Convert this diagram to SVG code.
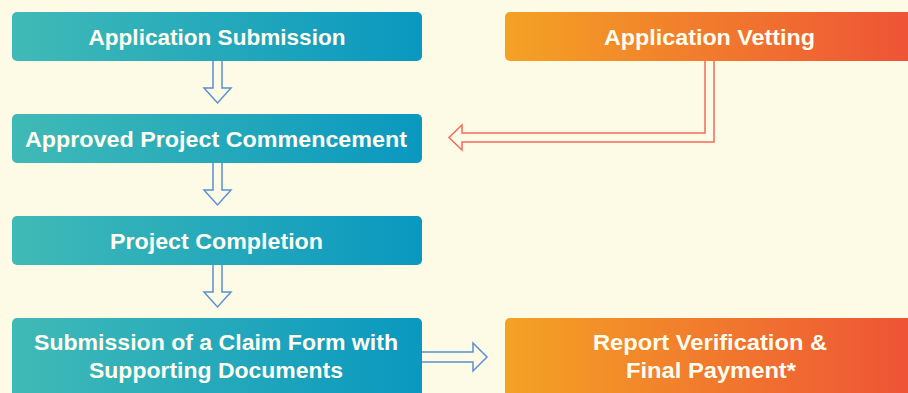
<svg xmlns="http://www.w3.org/2000/svg" width="908" height="393" viewBox="0 0 908 393">
<defs>
<linearGradient id="teal" x1="0" y1="0" x2="1" y2="0"><stop offset="0" stop-color="#40bab6"/><stop offset="1" stop-color="#0a98c0"/></linearGradient>
<linearGradient id="orange" x1="0" y1="0" x2="1" y2="0"><stop offset="0" stop-color="#f4a224"/><stop offset="1" stop-color="#ee5236"/></linearGradient>
<style>
.t{font-family:"Liberation Sans",Arial,sans-serif;font-weight:bold;font-size:22px;fill:#fffdf0;text-anchor:middle}
.b{fill:url(#teal)}
.o{fill:url(#orange)}
.ba{fill:#fdfbe6;stroke:#5a90d4;stroke-width:1.5;stroke-linejoin:miter}
.ra{fill:none;stroke:#f26b5e;stroke-width:1.5}
</style>
</defs>
<rect width="908" height="393" fill="#fdfbe6"/>
<g id="connectors">
<path class="ba" d="M213,61 V88 H204 L217.5,103 L231,88 H222 V61"/>
<path class="ba" d="M213,163 V190 H204 L217.5,205 L231,190 H222 V163"/>
<path class="ba" d="M213,265 V292 H204 L217.5,307 L231,292 H222 V265"/>
<path class="ba" d="M422,352 H473 V343 L487,357 L473,371 V362 H422"/>
<path class="ra" d="M705,61 V133 H462 V125 L449,137.5 L462,150 V142 H714 V61"/>
</g>
<g id="n1"><rect class="b" x="12" y="12" width="410" height="49" rx="5"/><text class="t" x="217" y="45" textLength="257" lengthAdjust="spacingAndGlyphs">Application Submission</text></g>
<g id="n2"><rect class="b" x="12" y="114" width="410" height="49" rx="5"/><text class="t" x="216" y="147" textLength="382" lengthAdjust="spacingAndGlyphs">Approved Project Commencement</text></g>
<g id="n3"><rect class="b" x="12" y="216" width="410" height="49" rx="5"/><text class="t" x="216.5" y="249" textLength="213" lengthAdjust="spacingAndGlyphs">Project Completion</text></g>
<g id="n4"><rect class="b" x="12" y="318" width="410" height="85" rx="5"/><text class="t" x="216" y="350" textLength="364" lengthAdjust="spacingAndGlyphs">Submission of a Claim Form with</text><text class="t" x="216" y="378" textLength="254" lengthAdjust="spacingAndGlyphs">Supporting Documents</text></g>
<g id="n5"><rect class="o" x="505" y="12" width="413" height="49" rx="5"/><text class="t" x="709.5" y="45" textLength="211" lengthAdjust="spacingAndGlyphs">Application Vetting</text></g>
<g id="n6"><rect class="o" x="505" y="318" width="413" height="85" rx="5"/><text class="t" x="710" y="350" textLength="234" lengthAdjust="spacingAndGlyphs">Report Verification &amp;</text><text class="t" x="711" y="378" textLength="170" lengthAdjust="spacingAndGlyphs">Final Payment*</text></g>
</svg>
